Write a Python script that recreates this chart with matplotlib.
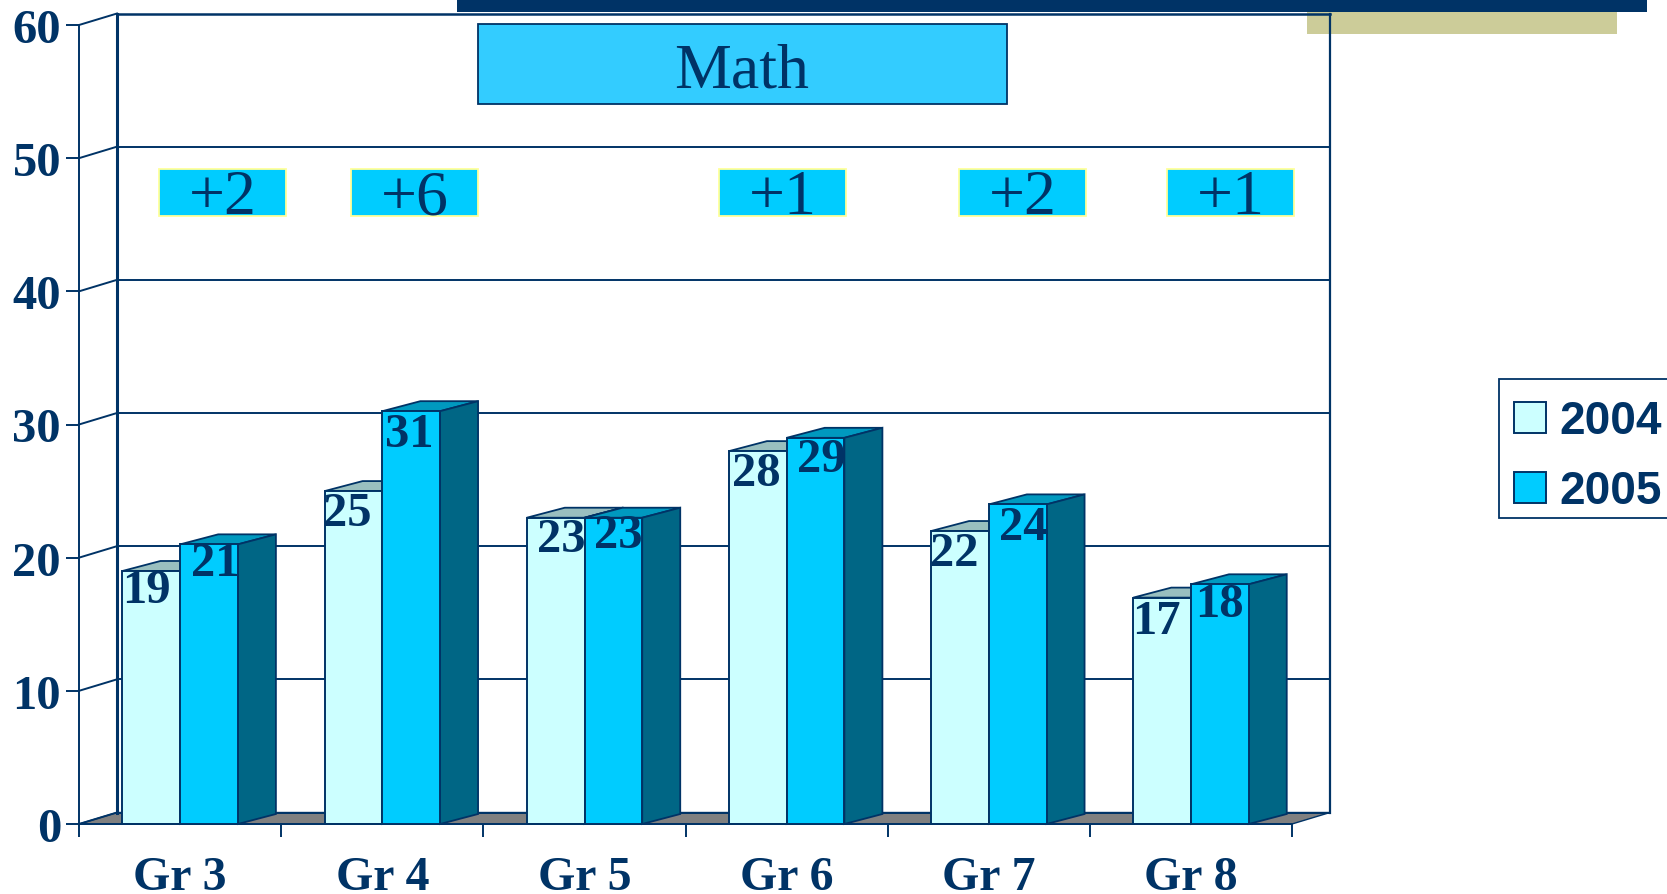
import matplotlib
matplotlib.use("Agg")
import matplotlib.pyplot as plt
from matplotlib.patches import Polygon, Rectangle

# --- Data ---
grades = ["Gr 3", "Gr 4", "Gr 5", "Gr 6", "Gr 7", "Gr 8"]
years = ["2004", "2005"]
values_2004 = [19, 25, 23, 28, 22, 17]
values_2005 = [21, 31, 23, 29, 24, 18]
y_ticks = [0, 10, 20, 30, 40, 50, 60]
delta_labels = ["+2", "+6", "+1", "+2", "+1"]
chart_title = "Math"

# --- Style ---
W, H = 1667, 895
NAVY = "#003366"
LIGHT = "#CCFFFF"
BRIGHT = "#00CCFF"
SERIF = "Liberation Serif"
SANS = "Liberation Sans"

# fake 3D depth, in data units
DX = 38 / 202.2
DY = 11.5 / 13.317
BAR_DY = 10 / 13.317
BAR_START = 0.215
BAR_W = 0.2855

# nudges of the value labels, pixels (they sit unevenly in the original)
nudge_2004 = [(-5, 14), (-6, 17), (6, 16), (-2, 17), (-6, 17), (-6, 18)]
nudge_2005 = [(6, 14), (-2, 18), (5, 12), (6, 16), (6, 18), (0, 15)]
# delta boxes, pixels: left edge
delta_left = [159, 351, 719, 959, 1167]


def pixel_axes(z):
    a = fig.add_axes([0, 0, 1, 1], zorder=z)
    a.set_xlim(0, W)
    a.set_ylim(H, 0)
    a.axis("off")
    a.patch.set_alpha(0)
    return a


fig = plt.figure(figsize=(W / 100, H / 100), dpi=100, facecolor="white")

# --- Decoration behind the chart ---
back = pixel_axes(0)
back.add_patch(Rectangle((457, 0), 1190, 13, fc=NAVY, ec="none"))
back.add_patch(Rectangle((1307, 13), 310, 22, fc="#CCCC99", ec="none"))

# --- Chart ---
ax = fig.add_axes([79 / W, 1 - 825 / H, 1213 / W, 799 / H], zorder=1)
ax.patch.set_alpha(0)
ax.set_xlim(0, 6)
ax.set_ylim(0, 60)
for side in ["top", "right"]:
    ax.spines[side].set_visible(False)
for side in ["left", "bottom"]:
    ax.spines[side].set_color(NAVY)
    ax.spines[side].set_linewidth(1.4)

ax.set_yticks(y_ticks)
ax.set_yticklabels([str(v) for v in y_ticks], family=SERIF, weight="bold", fontsize=35, color=NAVY)
ax.tick_params(axis="y", length=9.4, width=1.4, color=NAVY, pad=3.5)
ax.set_xticks(range(7))
ax.set_xticklabels([])
ax.tick_params(axis="x", which="major", length=9.4, width=1.4, color=NAVY)
ax.set_xticks([i + 0.5 for i in range(6)], minor=True)
ax.set_xticklabels(grades, minor=True, family=SERIF, weight="bold", fontsize=34.5, color=NAVY)
ax.tick_params(axis="x", which="minor", length=0, pad=22)

# floor
ax.add_patch(Polygon([(0, 0), (6, 0), (6 + DX, DY), (DX, DY)], closed=True, fc="#808080",
                     ec=NAVY, lw=1, clip_on=False, zorder=1))

# back wall and grid
for v in y_ticks:
    lw = 1.8 if v == 60 else 1.4
    ax.plot([0, DX], [v, v + DY], color=NAVY, lw=1.4, clip_on=False, zorder=1.5)
    ax.plot([DX, 6 + DX], [v + DY, v + DY], color=NAVY, lw=lw, clip_on=False, zorder=1.5)
ax.plot([DX, DX], [DY, 60 + DY], color=NAVY, lw=2.2, clip_on=False, zorder=1.5)
ax.plot([6 + DX, 6 + DX], [DY, 60 + DY], color=NAVY, lw=1.6, clip_on=False, zorder=1.5)


def draw_bar(x, v, front, top, side, z):
    ax.add_patch(Polygon([(x, v), (x + BAR_W, v), (x + BAR_W + DX, v + BAR_DY), (x + DX, v + BAR_DY)],
                         closed=True, fc=top, ec=NAVY, lw=1.3, clip_on=False, zorder=z))
    ax.add_patch(Polygon([(x + BAR_W, 0), (x + BAR_W + DX, BAR_DY), (x + BAR_W + DX, v + BAR_DY), (x + BAR_W, v)],
                         closed=True, fc=side, ec=NAVY, lw=1.3, clip_on=False, zorder=z))
    ax.add_patch(Rectangle((x, 0), BAR_W, v, fc=front, ec=NAVY, lw=1.4, clip_on=False, zorder=z + 0.1))


for i in range(len(grades)):
    x1 = i + BAR_START
    x2 = x1 + BAR_W
    draw_bar(x1, values_2004[i], LIGHT, "#99BFBF", "#99BFBF", 2)
    draw_bar(x2, values_2005[i], BRIGHT, "#0099BF", "#006685", 3)

    ax.annotate(str(values_2004[i]), (x1 + BAR_W / 2, values_2004[i]), xytext=(nudge_2004[i][0] * 0.72, -nudge_2004[i][1] * 0.72),
                textcoords="offset points", ha="center", va="center_baseline", family=SERIF, weight="bold",
                fontsize=35, color=NAVY, zorder=5, annotation_clip=False)
    ax.annotate(str(values_2005[i]), (x2 + BAR_W / 2, values_2005[i]), xytext=(nudge_2005[i][0] * 0.72, -nudge_2005[i][1] * 0.72),
                textcoords="offset points", ha="center", va="center_baseline", family=SERIF, weight="bold",
                fontsize=35, color=NAVY, zorder=5, annotation_clip=False)

# --- Boxes on top ---
front = pixel_axes(2)
front.add_patch(Rectangle((478, 25), 529, 80, fc="#33CCFF", ec=NAVY, lw=1.3))
front.text(742, 87, chart_title, family=SERIF, fontsize=46, color=NAVY, ha="center", va="baseline")

for left, label in zip(delta_left, delta_labels):
    front.add_patch(Rectangle((left, 170), 127, 47, fc=BRIGHT, ec="#FFFF99", lw=1.3))
    front.text(left + 64, 214, label, family=SERIF, fontsize=46, color=NAVY, ha="center", va="baseline")

# legend, runs off the right edge like the original
front.add_patch(Rectangle((1499, 380), 200, 139, fc="white", ec=NAVY, lw=1.3))
for y, c, label in zip([403, 473], [LIGHT, BRIGHT], years):
    front.add_patch(Rectangle((1514, y), 32, 31, fc=c, ec=NAVY, lw=1.4))
    front.text(1559, y + 31, label, family=SANS, weight="bold", fontsize=33, color=NAVY, ha="left", va="baseline")

fig.savefig("out.png", dpi=100)
